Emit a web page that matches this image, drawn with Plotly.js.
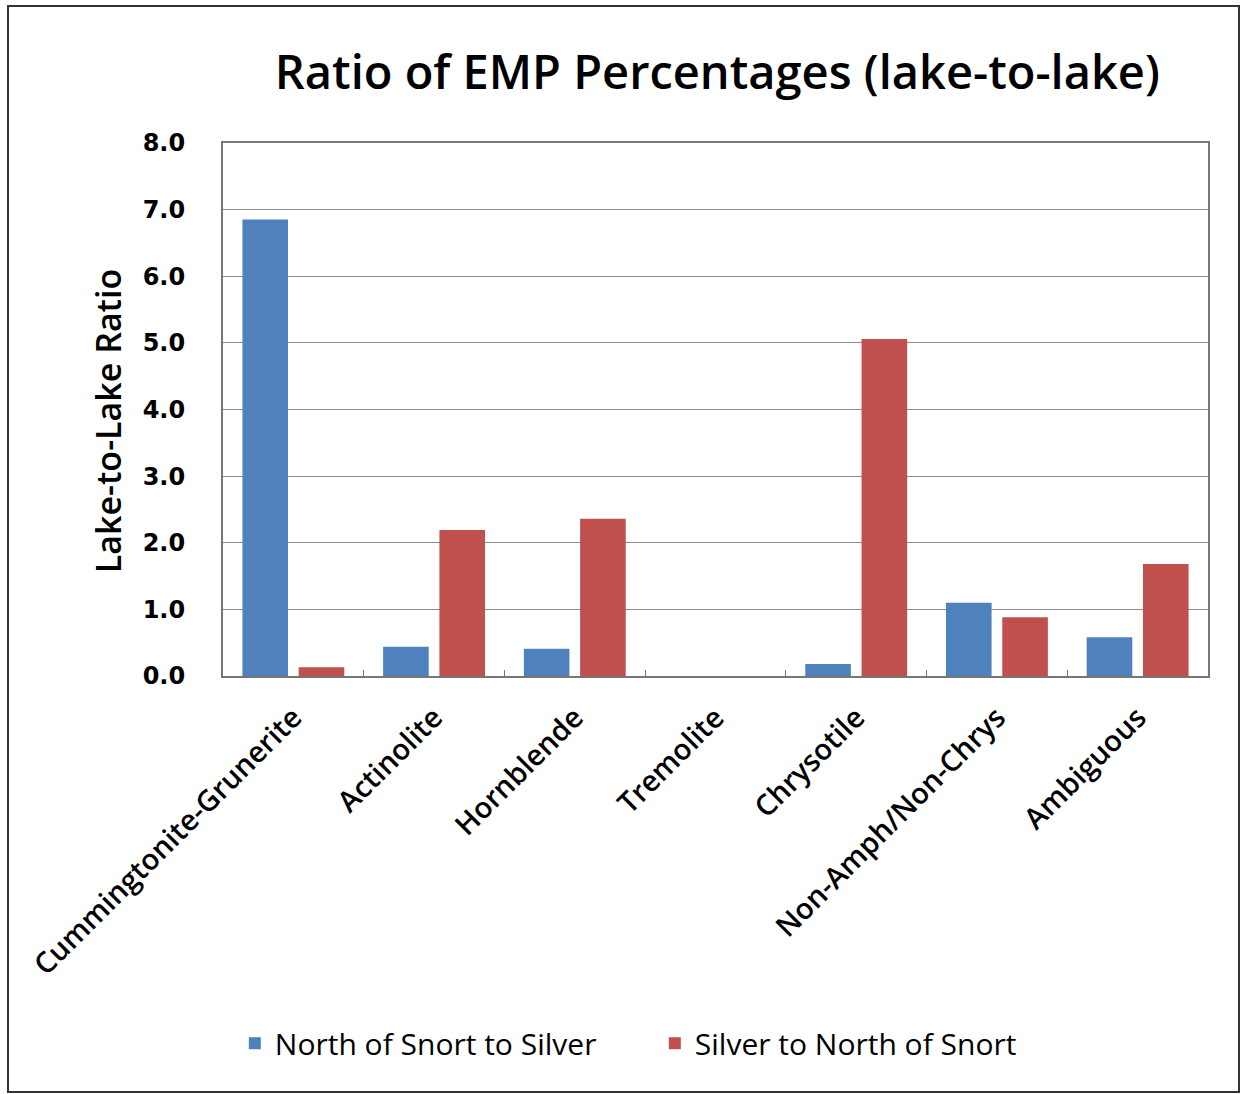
<!DOCTYPE html>
<html>
<head>
<meta charset="utf-8">
<script src="https://cdn.plot.ly/plotly-3.0.1.min.js"></script>
<style>
body{margin:0;padding:0;background:#fff;}
#wrap{position:relative;width:1241px;height:1094px;}
#chart{position:absolute;left:0;top:0;width:1241px;height:1094px;}
#frame{position:absolute;left:7px;top:5px;width:1229px;height:1084px;border:2px solid #333;pointer-events:none;}
</style>
</head>
<body>
<div id="wrap"><div id="chart"></div><div id="frame"></div></div>
<script>
const categories = ["Cummingtonite-Grunerite","Actinolite","Hornblende","Tremolite","Chrysotile","Non-Amph/Non-Chrys","Ambiguous"];
const northToSilver = [6.85, 0.44, 0.41, 0, 0.18, 1.10, 0.58];
const silverToNorth = [0.13, 2.19, 2.36, 0, 5.06, 0.88, 1.68];
const seriesNames = ["North of Snort to Silver", "Silver to North of Snort"];
const yTicks = [0,1,2,3,4,5,6,7,8];
const yTickLabels = ["0.0","1.0","2.0","3.0","4.0","5.0","6.0","7.0","8.0"];

const fontFam = "Open Sans, DejaVu Sans, sans-serif";
const data = [
  {type:'bar', x:categories, y:northToSilver, name:seriesNames[0], marker:{color:'#4F81BD'}},
  {type:'bar', x:categories, y:silverToNorth, name:seriesNames[1], marker:{color:'#C0504D'}}
];
const layout = {
  width:1241, height:1094,
  margin:{l:223, r:33, t:143, b:418},
  paper_bgcolor:'rgba(0,0,0,0)', plot_bgcolor:'#fff',
  barmode:'group', bargap:0.2, bargroupgap:0.19,
  showlegend:true,
  title:{text:'Ratio of EMP Percentages (lake-to-lake)', x:0.578, xanchor:'center', y:0.934, yanchor:'middle',
         font:{family:fontFam, size:47, color:'#000', weight:600}},
  xaxis:{type:'category', showline:true, linecolor:'#777', linewidth:2, mirror:true,
         ticks:'inside', tickson:'boundaries', ticklen:6, tickcolor:'#777',
         tickangle:-45, ticklabelstandoff:11,
         tickfont:{family:fontFam, size:29, color:'#000', weight:600},
         showgrid:false, fixedrange:true},
  yaxis:{range:[0,8], tickvals:yTicks, ticktext:yTickLabels, showline:true, linecolor:'#777', linewidth:2, mirror:true,
         showgrid:true, gridcolor:'#8c8c8c', gridwidth:1.2, ticks:'', ticklabelstandoff:31,
         tickfont:{family:"DejaVu Sans, sans-serif", size:24, color:'#000', weight:700},
         zeroline:false, fixedrange:true},
  annotations:[{text:'Lake-to-Lake Ratio', xref:'paper', yref:'paper', x:-0.1167, y:0.478,
                xanchor:'center', yanchor:'middle', textangle:-90, showarrow:false,
                font:{family:fontFam, size:34, color:'#000', weight:600}}],
  legend:{orientation:'h', x:0.012, xanchor:'left', y:-0.689, yanchor:'middle',
          font:{family:fontFam, size:30, color:'#000'}, itemwidth:30, tracegroupgap:0,
          entrywidth:375, entrywidthmode:'pixels'}
};
Plotly.newPlot('chart', data, layout, {staticPlot:true});
</script>
</body>
</html>
